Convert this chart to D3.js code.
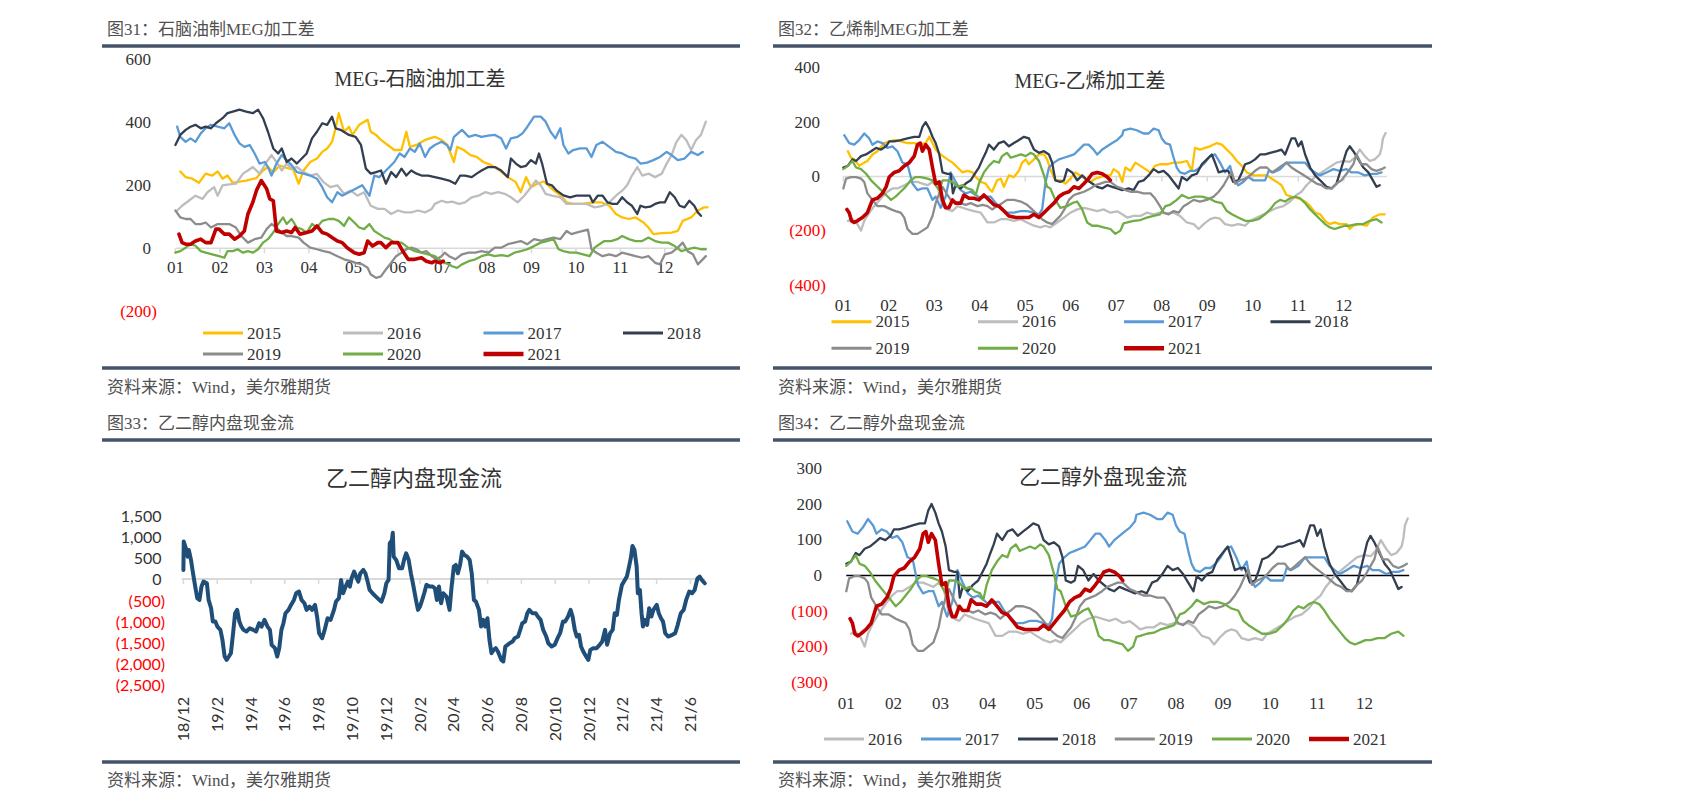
<!DOCTYPE html>
<html><head><meta charset="utf-8">
<script src="https://cdn.jsdelivr.net/npm/d3@7"></script>
<style>body{margin:0;background:#fff}svg{display:block}</style>
</head><body>
<svg id="c" width="1684" height="809"></svg>
<script>
// ---------- DATA ----------
const monthLabels = ["01","02","03","04","05","06","07","08","09","10","11","12"];
const ticksNaphtha = [-200, 0, 200, 400, 600];
const ticksEthylene = [-400, -200, 0, 200, 400];
const ticksOverseas = [-300, -200, -100, 0, 100, 200, 300];
const ticksDomestic = [-2500, -2000, -1500, -1000, -500, 0, 500, 1000, 1500];
const domesticDateLabels = ["18/12","19/2","19/4","19/6","19/8","19/10","19/12","20/2","20/4","20/6","20/8","20/10","20/12","21/2","21/4","21/6"];
const yearsP1 = ["2015","2016","2017","2018","2019","2020","2021"];
const yearsP4 = ["2016","2017","2018","2019","2020","2021"];

// 图31: [month offset, value]
const naphtha2015 = [[0.11,244],[0.23,226],[0.38,221],[0.53,208],[0.68,237],[0.83,231],[0.95,244],[1.06,221],[1.17,231],[1.29,208],[1.44,212],[1.59,215],[1.82,223],[1.97,247],[2.08,258],[2.20,242],[2.35,263],[2.50,255],[2.65,250],[2.77,205],[2.88,247],[3.03,274],[3.18,285],[3.30,306],[3.41,317],[3.52,338],[3.60,381],[3.67,429],[3.79,370],[3.90,386],[3.98,360],[4.13,392],[4.32,408],[4.39,370],[4.51,360],[4.62,344],[4.77,328],[4.92,312],[5.08,312],[5.19,370],[5.27,322],[5.42,328],[5.61,344],[5.83,354],[5.98,344],[6.11,328],[6.26,274],[6.33,322],[6.48,312],[6.63,296],[6.77,290],[6.92,274],[7.10,264],[7.29,247],[7.47,226],[7.65,210],[7.76,178],[7.88,226],[7.99,194],[8.13,205],[8.28,212],[8.46,189],[8.65,168],[8.79,146],[8.94,141],[9.16,141],[9.38,146],[9.57,146],[9.75,135],[9.90,109],[10.04,98],[10.19,93],[10.34,98],[10.52,82],[10.63,66],[10.74,45],[10.93,48],[11.15,50],[11.29,55],[11.40,87],[11.59,98],[11.74,120],[11.88,130],[11.96,130]];
const naphtha2016 = [[0.04,120],[0.15,135],[0.30,151],[0.45,167],[0.61,157],[0.72,178],[0.87,194],[0.95,167],[1.06,200],[1.17,202],[1.36,205],[1.52,237],[1.63,247],[1.74,258],[1.89,237],[2.05,274],[2.16,296],[2.27,274],[2.39,247],[2.50,269],[2.61,253],[2.73,258],[2.88,242],[3.03,231],[3.18,236],[3.33,210],[3.48,194],[3.64,200],[3.79,173],[3.94,183],[4.09,167],[4.24,178],[4.39,135],[4.55,125],[4.70,125],[4.85,109],[5.00,120],[5.15,114],[5.30,114],[5.45,120],[5.61,114],[5.76,125],[5.83,141],[5.98,151],[6.10,146],[6.22,148],[6.37,141],[6.51,146],[6.66,162],[6.81,167],[6.96,178],[7.10,173],[7.25,178],[7.40,173],[7.54,162],[7.69,146],[7.84,167],[7.99,194],[8.10,215],[8.21,200],[8.32,173],[8.46,167],[8.65,162],[8.79,141],[9.01,141],[9.24,141],[9.42,130],[9.60,135],[9.75,146],[9.90,167],[10.04,183],[10.15,200],[10.26,231],[10.38,258],[10.49,231],[10.63,237],[10.78,226],[10.93,237],[11.04,269],[11.15,296],[11.26,338],[11.37,360],[11.48,344],[11.59,312],[11.70,344],[11.81,360],[11.92,402]];
const naphtha2017 = [[0.04,386],[0.11,354],[0.23,338],[0.34,349],[0.45,338],[0.57,365],[0.68,381],[0.80,392],[0.95,386],[1.10,381],[1.21,397],[1.33,360],[1.44,333],[1.55,322],[1.67,328],[1.78,301],[1.89,269],[2.01,274],[2.08,258],[2.16,231],[2.27,269],[2.39,296],[2.50,280],[2.61,264],[2.73,242],[2.88,237],[3.03,231],[3.18,221],[3.30,194],[3.41,162],[3.52,146],[3.64,178],[3.75,167],[3.90,178],[4.05,189],[4.20,200],[4.36,167],[4.47,231],[4.58,226],[4.70,242],[4.81,258],[4.92,274],[5.04,301],[5.15,290],[5.27,317],[5.38,306],[5.49,333],[5.61,290],[5.72,317],[5.83,328],[5.98,338],[6.10,328],[6.18,312],[6.26,354],[6.44,376],[6.59,354],[6.74,360],[6.88,354],[7.03,358],[7.18,360],[7.32,349],[7.43,317],[7.54,349],[7.69,354],[7.80,365],[7.91,386],[8.06,418],[8.21,418],[8.32,402],[8.43,370],[8.54,349],[8.65,381],[8.72,328],[8.83,301],[8.94,312],[9.09,317],[9.24,317],[9.35,290],[9.46,328],[9.60,338],[9.75,322],[9.90,306],[10.04,301],[10.19,290],[10.34,285],[10.45,269],[10.60,272],[10.74,280],[10.89,290],[11.04,306],[11.15,296],[11.29,280],[11.44,285],[11.59,306],[11.74,296],[11.85,306]];
const naphtha2018 = [[0,328],[0.11,360],[0.23,376],[0.34,386],[0.45,392],[0.57,381],[0.68,386],[0.80,381],[0.91,397],[1.06,413],[1.17,429],[1.29,434],[1.44,440],[1.59,434],[1.74,429],[1.86,440],[1.97,413],[2.08,370],[2.20,317],[2.31,301],[2.39,317],[2.50,274],[2.61,285],[2.73,269],[2.84,285],[2.95,301],[3.07,349],[3.18,370],[3.30,397],[3.41,392],[3.52,418],[3.60,381],[3.71,376],[3.90,360],[4.05,354],[4.17,328],[4.28,253],[4.39,237],[4.51,242],[4.62,247],[4.73,205],[4.85,242],[4.96,226],[5.08,253],[5.19,231],[5.30,247],[5.42,237],[5.53,231],[5.68,231],[5.83,226],[5.98,221],[6.15,215],[6.29,205],[6.40,231],[6.51,231],[6.66,226],[6.77,237],[6.88,247],[7.03,258],[7.18,258],[7.32,247],[7.47,226],[7.54,285],[7.65,269],[7.76,258],[7.88,262],[7.99,280],[8.10,269],[8.17,301],[8.24,269],[8.35,205],[8.46,200],[8.57,183],[8.72,168],[8.87,162],[9.01,167],[9.16,167],[9.31,167],[9.38,146],[9.49,167],[9.60,167],[9.71,146],[9.82,141],[9.93,141],[10.04,162],[10.15,146],[10.26,135],[10.38,109],[10.45,135],[10.56,130],[10.67,132],[10.78,141],[10.89,146],[11.00,146],[11.11,178],[11.22,162],[11.33,135],[11.44,130],[11.55,151],[11.66,135],[11.74,114],[11.81,103]];
const naphtha2019 = [[0,120],[0.11,98],[0.23,93],[0.34,93],[0.45,77],[0.57,77],[0.68,82],[0.80,66],[0.95,77],[1.06,77],[1.21,77],[1.36,66],[1.48,39],[1.63,18],[1.78,29],[1.93,34],[2.05,61],[2.16,77],[2.27,66],[2.39,50],[2.50,39],[2.61,39],[2.77,34],[2.88,18],[3.03,2],[3.18,-3],[3.33,-9],[3.48,-14],[3.64,-25],[3.79,-35],[3.94,-41],[4.05,-46],[4.20,-51],[4.32,-62],[4.39,-83],[4.51,-94],[4.62,-89],[4.73,-67],[4.85,-46],[4.96,-25],[5.08,-14],[5.19,-3],[5.30,2],[5.42,-3],[5.53,-14],[5.64,-9],[5.76,-25],[5.87,-35],[5.98,-25],[6.05,-14],[6.15,-25],[6.29,-35],[6.44,-19],[6.59,-14],[6.74,-14],[6.88,-9],[7.03,-14],[7.18,2],[7.32,2],[7.47,13],[7.62,18],[7.76,23],[7.91,13],[8.06,29],[8.21,24],[8.35,29],[8.50,34],[8.65,29],[8.79,55],[8.90,45],[9.01,50],[9.16,55],[9.27,59],[9.35,-3],[9.46,-14],[9.60,-25],[9.75,-19],[9.90,-25],[10.04,-14],[10.19,-19],[10.34,-25],[10.49,-30],[10.63,-25],[10.78,-46],[10.89,-51],[11.00,-19],[11.15,-14],[11.29,2],[11.40,18],[11.51,-9],[11.63,-19],[11.74,-51],[11.85,-35],[11.92,-25]];
const naphtha2020 = [[0,-14],[0.11,-9],[0.23,2],[0.34,13],[0.45,8],[0.57,-9],[0.68,-14],[0.83,-19],[0.98,-25],[1.10,-30],[1.17,-9],[1.29,-9],[1.40,-3],[1.52,-14],[1.63,-9],[1.74,-14],[1.86,-3],[1.97,18],[2.08,29],[2.20,50],[2.31,77],[2.42,98],[2.50,77],[2.61,93],[2.73,66],[2.84,61],[2.95,50],[3.07,77],[3.18,66],[3.30,87],[3.45,93],[3.56,93],[3.67,87],[3.79,71],[3.90,98],[4.02,82],[4.13,66],[4.24,61],[4.36,77],[4.47,55],[4.58,45],[4.70,34],[4.81,29],[4.92,18],[5.08,18],[5.23,2],[5.38,-9],[5.53,-14],[5.68,-19],[5.83,-25],[5.98,-41],[6.14,-51],[6.22,-57],[6.33,-62],[6.44,-51],[6.59,-41],[6.74,-35],[6.88,-25],[7.03,-19],[7.18,-25],[7.32,-22],[7.47,-25],[7.62,-14],[7.76,-9],[7.91,-3],[8.06,7],[8.21,18],[8.35,23],[8.50,29],[8.61,-3],[8.72,-9],[8.87,-14],[9.01,-14],[9.16,-19],[9.31,-25],[9.42,2],[9.53,13],[9.64,23],[9.79,23],[9.93,29],[10.04,39],[10.19,29],[10.34,23],[10.49,23],[10.63,34],[10.78,23],[10.93,18],[11.07,18],[11.22,7],[11.37,-9],[11.51,-3],[11.66,2],[11.81,-3],[11.92,-3]];
const naphtha2021 = [[0.08,45],[0.15,18],[0.23,13],[0.34,13],[0.45,23],[0.57,29],[0.68,18],[0.80,18],[0.91,61],[0.98,61],[1.10,45],[1.21,45],[1.33,29],[1.44,39],[1.55,55],[1.63,109],[1.74,146],[1.82,183],[1.93,215],[2.05,189],[2.12,157],[2.20,151],[2.27,55],[2.39,50],[2.50,55],[2.61,50],[2.69,66],[2.80,45],[2.95,50],[3.07,55],[3.18,71],[3.30,50],[3.41,45],[3.52,34],[3.64,23],[3.75,18],[3.86,2],[4.02,-14],[4.13,-19],[4.24,-14],[4.32,23],[4.43,7],[4.55,18],[4.62,18],[4.73,2],[4.85,18],[5.00,18],[5.11,-9],[5.23,-35],[5.38,-35],[5.53,-30],[5.64,-41],[5.76,-46],[5.83,-41],[5.95,-46],[6.02,-41]];

// 图32 / 图34 (same underlying series)
const ethylene2015 = [[0.10,93],[0.17,69],[0.24,63],[0.35,39],[0.46,51],[0.53,57],[0.64,81],[0.75,93],[0.90,123],[1.01,129],[1.12,134],[1.26,129],[1.41,123],[1.56,123],[1.70,117],[1.81,123],[1.89,146],[1.96,123],[2.03,99],[2.14,81],[2.29,63],[2.40,51],[2.51,33],[2.62,15],[2.73,21],[2.84,15],[2.91,-2],[3.02,-20],[3.13,-26],[3.20,-44],[3.27,-56],[3.38,-14],[3.46,-8],[3.53,-38],[3.64,4],[3.75,-2],[3.86,21],[3.93,51],[4.01,63],[4.08,45],[4.19,63],[4.30,81],[4.41,81],[4.48,63],[4.55,27],[4.66,-14],[4.77,-14],[4.88,-26],[4.99,-8],[5.10,15],[5.21,4],[5.32,-8],[5.43,-20],[5.54,-8],[5.65,-2],[5.76,4],[5.87,4],[5.94,27],[6.05,15],[6.13,-20],[6.20,33],[6.31,21],[6.42,51],[6.53,39],[6.64,27],[6.75,15],[6.85,39],[6.96,45],[7.11,45],[7.26,51],[7.40,51],[7.55,57],[7.66,21],[7.73,105],[7.84,99],[7.95,105],[8.06,111],[8.21,123],[8.32,117],[8.43,99],[8.54,81],[8.65,57],[8.76,39],[8.87,15],[9.01,4],[9.16,4],[9.31,4],[9.42,-8],[9.53,-20],[9.63,-32],[9.74,-68],[9.85,-74],[10.00,-80],[10.15,-92],[10.26,-109],[10.37,-133],[10.48,-139],[10.59,-163],[10.69,-175],[10.80,-169],[10.91,-175],[11.06,-175],[11.13,-193],[11.21,-181],[11.35,-175],[11.50,-181],[11.64,-151],[11.79,-139],[11.90,-139]];
const ethylene2016 = [[0.10,-163],[0.20,-157],[0.31,-175],[0.39,-199],[0.46,-163],[0.57,-133],[0.68,-109],[0.83,-80],[0.97,-56],[1.08,-44],[1.19,-44],[1.34,-32],[1.48,-20],[1.63,-20],[1.74,-26],[1.85,-32],[1.96,-20],[2.07,-38],[2.18,-109],[2.29,-121],[2.40,-127],[2.51,-109],[2.62,-115],[2.73,-121],[2.87,-127],[3.02,-133],[3.17,-169],[3.31,-169],[3.46,-157],[3.60,-157],[3.75,-163],[3.90,-157],[4.04,-169],[4.19,-181],[4.33,-187],[4.44,-181],[4.55,-187],[4.70,-169],[4.85,-151],[4.99,-133],[5.14,-121],[5.29,-115],[5.43,-121],[5.58,-127],[5.72,-121],[5.87,-133],[6.02,-128],[6.13,-139],[6.24,-151],[6.38,-145],[6.53,-145],[6.67,-133],[6.82,-139],[6.96,-133],[7.11,-136],[7.26,-133],[7.40,-145],[7.55,-169],[7.70,-175],[7.81,-193],[7.92,-175],[8.06,-157],[8.17,-151],[8.28,-155],[8.39,-175],[8.54,-181],[8.68,-175],[8.83,-181],[8.94,-163],[9.09,-151],[9.24,-139],[9.38,-127],[9.53,-115],[9.67,-109],[9.82,-92],[9.96,-68],[10.07,-56],[10.18,-32],[10.29,-14],[10.40,4],[10.51,15],[10.62,27],[10.73,39],[10.84,51],[10.99,57],[11.13,54],[11.24,69],[11.35,99],[11.46,75],[11.57,57],[11.68,63],[11.79,81],[11.83,105],[11.86,140],[11.92,160]];
const ethylene2017 = [[0.02,152],[0.13,123],[0.24,117],[0.35,134],[0.46,158],[0.57,140],[0.64,117],[0.75,129],[0.86,123],[0.97,105],[1.08,111],[1.19,93],[1.30,51],[1.41,45],[1.52,-26],[1.63,-50],[1.74,-44],[1.85,-44],[1.96,-86],[2.03,-74],[2.14,-115],[2.25,-74],[2.36,15],[2.47,-20],[2.58,-50],[2.69,-62],[2.80,-56],[2.91,-68],[3.02,-80],[3.13,-74],[3.24,-74],[3.35,-98],[3.46,-115],[3.60,-133],[3.75,-133],[3.90,-127],[4.04,-127],[4.19,-133],[4.30,-139],[4.37,-121],[4.44,-26],[4.52,33],[4.63,51],[4.74,63],[4.85,69],[4.96,75],[5.07,81],[5.18,99],[5.29,117],[5.39,117],[5.50,99],[5.58,81],[5.69,99],[5.80,111],[5.91,123],[6.02,134],[6.13,152],[6.16,170],[6.31,176],[6.45,170],[6.60,158],[6.71,158],[6.82,176],[6.93,170],[7.00,140],[7.08,123],[7.18,117],[7.26,69],[7.33,33],[7.40,15],[7.51,10],[7.62,21],[7.73,21],[7.84,33],[7.95,51],[8.06,75],[8.17,81],[8.28,51],[8.39,15],[8.50,39],[8.57,-8],[8.68,-32],[8.79,-20],[8.90,-2],[9.01,-14],[9.16,-14],[9.27,-14],[9.35,21],[9.45,15],[9.60,27],[9.74,51],[9.89,51],[10.04,51],[10.15,51],[10.26,27],[10.37,15],[10.48,4],[10.62,15],[10.77,27],[10.91,21],[11.06,27],[11.17,15],[11.32,15],[11.46,4],[11.61,10],[11.72,10],[11.83,15]];
const ethylene2018 = [[0,33],[0.10,39],[0.20,63],[0.28,57],[0.39,75],[0.50,81],[0.61,93],[0.72,105],[0.83,99],[0.94,111],[1.01,129],[1.12,129],[1.26,134],[1.41,140],[1.56,146],[1.67,146],[1.74,182],[1.81,200],[1.89,176],[1.96,146],[2.03,123],[2.11,81],[2.18,15],[2.29,10],[2.36,10],[2.41,-62],[2.47,-32],[2.58,-44],[2.69,-26],[2.80,-14],[2.91,15],[2.98,33],[3.06,63],[3.13,87],[3.20,117],[3.31,99],[3.42,123],[3.53,129],[3.64,111],[3.75,123],[3.86,134],[3.97,146],[4.08,140],[4.19,99],[4.30,87],[4.41,93],[4.52,81],[4.59,51],[4.66,-14],[4.77,-20],[4.85,-14],[4.92,27],[5.03,15],[5.14,-14],[5.25,4],[5.36,-14],[5.47,-26],[5.58,-38],[5.69,-44],[5.80,-32],[5.91,-38],[6.02,-44],[6.13,-50],[6.27,-44],[6.38,-50],[6.49,-20],[6.60,-14],[6.71,4],[6.82,27],[6.93,15],[7.04,21],[7.15,4],[7.26,-20],[7.37,-44],[7.44,-2],[7.55,-14],[7.66,4],[7.77,10],[7.88,45],[7.99,63],[8.10,81],[8.17,51],[8.25,15],[8.36,21],[8.46,21],[8.57,-20],[8.68,-14],[8.76,15],[8.83,45],[8.94,51],[9.05,63],[9.16,81],[9.27,81],[9.38,87],[9.53,93],[9.63,99],[9.71,81],[9.78,111],[9.85,140],[9.93,140],[10.00,111],[10.07,129],[10.15,81],[10.26,33],[10.37,4],[10.48,-14],[10.62,-38],[10.73,-44],[10.84,-26],[10.95,33],[11.06,93],[11.13,111],[11.21,93],[11.32,63],[11.43,33],[11.54,15],[11.64,-14],[11.72,-38],[11.79,-32]];
const ethylene2019 = [[0,-44],[0.06,-8],[0.17,-2],[0.28,-2],[0.39,-8],[0.46,-20],[0.53,-62],[0.64,-86],[0.75,-109],[0.90,-109],[1.05,-121],[1.15,-127],[1.26,-133],[1.34,-151],[1.41,-193],[1.52,-211],[1.63,-211],[1.74,-199],[1.85,-187],[1.96,-145],[2.03,-98],[2.11,-62],[2.18,-38],[2.29,-68],[2.36,-86],[2.47,-98],[2.58,-98],[2.69,-104],[2.80,-98],[2.95,-109],[3.06,-104],[3.17,-109],[3.27,-121],[3.38,-109],[3.49,-98],[3.60,-86],[3.75,-86],[3.90,-92],[4.04,-104],[4.15,-121],[4.26,-139],[4.37,-157],[4.48,-169],[4.59,-175],[4.66,-163],[4.77,-145],[4.88,-115],[4.96,-86],[5.07,-68],[5.18,-62],[5.29,-56],[5.43,-44],[5.54,-32],[5.65,-26],[5.76,-20],[5.87,-20],[6.02,-38],[6.13,-44],[6.20,-50],[6.31,-56],[6.45,-56],[6.60,-62],[6.75,-62],[6.85,-80],[6.96,-109],[7.04,-133],[7.15,-139],[7.26,-127],[7.37,-133],[7.48,-109],[7.59,-98],[7.70,-86],[7.84,-92],[7.99,-86],[8.14,-74],[8.25,-56],[8.36,-32],[8.46,-2],[8.54,15],[8.61,-26],[8.72,-14],[8.83,-8],[8.94,4],[9.05,21],[9.16,33],[9.31,33],[9.42,15],[9.53,27],[9.63,39],[9.74,51],[9.85,33],[9.96,21],[10.07,10],[10.18,-2],[10.29,-14],[10.40,-26],[10.51,-32],[10.62,-44],[10.73,-44],[10.84,-26],[10.95,-14],[11.06,10],[11.21,45],[11.28,81],[11.39,45],[11.50,45],[11.61,27],[11.72,21],[11.83,27],[11.90,33]];
const ethylene2020 = [[0,27],[0.10,39],[0.20,57],[0.28,33],[0.39,27],[0.50,10],[0.61,-14],[0.72,-32],[0.83,-50],[0.94,-68],[1.05,-86],[1.15,-74],[1.26,-56],[1.37,-38],[1.48,-14],[1.59,-2],[1.70,-2],[1.85,-8],[1.96,-14],[2.03,-32],[2.11,-50],[2.18,-14],[2.29,-14],[2.40,-20],[2.51,-38],[2.62,-32],[2.73,-44],[2.84,-50],[2.91,-68],[2.98,-26],[3.09,15],[3.20,39],[3.31,57],[3.42,51],[3.49,75],[3.60,87],[3.68,69],[3.79,75],[3.90,81],[4.01,75],[4.12,87],[4.19,81],[4.30,57],[4.41,4],[4.48,-38],[4.55,-44],[4.66,-86],[4.77,-115],[4.92,-109],[5.03,-98],[5.14,-92],[5.25,-121],[5.36,-169],[5.47,-181],[5.58,-181],[5.72,-187],[5.87,-193],[5.98,-211],[6.09,-199],[6.16,-172],[6.24,-169],[6.38,-163],[6.53,-160],[6.67,-151],[6.82,-145],[6.96,-139],[7.08,-109],[7.18,-104],[7.33,-86],[7.44,-68],[7.59,-80],[7.73,-74],[7.88,-74],[8.03,-80],[8.17,-92],[8.32,-98],[8.43,-127],[8.54,-139],[8.68,-151],[8.83,-163],[8.98,-163],[9.12,-157],[9.27,-139],[9.38,-121],[9.49,-98],[9.60,-86],[9.71,-92],[9.82,-80],[9.93,-74],[10.04,-80],[10.15,-98],[10.26,-121],[10.37,-139],[10.48,-157],[10.59,-175],[10.69,-187],[10.80,-193],[10.91,-187],[11.02,-181],[11.13,-181],[11.28,-175],[11.43,-175],[11.57,-163],[11.72,-157],[11.83,-169]];
const ethylene2021 = [[0.08,-121],[0.13,-133],[0.18,-163],[0.24,-169],[0.31,-163],[0.42,-151],[0.53,-133],[0.64,-86],[0.75,-80],[0.86,-62],[0.94,-38],[1.01,-2],[1.12,15],[1.23,21],[1.34,39],[1.45,51],[1.56,75],[1.63,117],[1.69,123],[1.74,93],[1.81,117],[1.89,99],[1.96,33],[2.03,-26],[2.11,-20],[2.18,-86],[2.25,-115],[2.32,-115],[2.40,-86],[2.47,-98],[2.58,-98],[2.65,-68],[2.76,-80],[2.87,-80],[2.98,-86],[3.09,-68],[3.20,-86],[3.31,-104],[3.42,-109],[3.53,-127],[3.64,-145],[3.79,-151],[3.93,-151],[4.08,-151],[4.19,-139],[4.30,-151],[4.41,-133],[4.52,-115],[4.63,-98],[4.74,-74],[4.85,-62],[4.96,-56],[5.07,-38],[5.18,-44],[5.29,-26],[5.39,-8],[5.47,10],[5.58,15],[5.69,10],[5.80,-2],[5.87,-14]];

// 图33: [months since 2018-12, value]
const domesticCash = [[0,213],[0.02,885],[0.15,727],[0.25,529],[0.32,687],[0.45,450],[0.57,134],[0.70,-182],[0.82,-458],[0.95,-498],[1.07,-182],[1.19,-63],[1.39,-103],[1.49,-498],[1.64,-695],[1.74,-1011],[1.89,-1011],[2.01,-1130],[2.19,-1209],[2.31,-1446],[2.44,-1841],[2.56,-1920],[2.69,-1841],[2.81,-1762],[2.94,-1288],[3.06,-814],[3.18,-735],[3.31,-1011],[3.43,-1130],[3.56,-1209],[3.73,-1248],[3.93,-1169],[4.13,-1209],[4.30,-1248],[4.48,-1051],[4.63,-1130],[4.80,-972],[4.98,-1130],[5.12,-1209],[5.22,-1564],[5.42,-1643],[5.55,-1841],[5.67,-1643],[5.80,-1209],[5.92,-1051],[6.04,-814],[6.22,-735],[6.37,-616],[6.54,-498],[6.67,-340],[6.84,-300],[6.99,-498],[7.16,-577],[7.29,-735],[7.46,-656],[7.61,-735],[7.79,-616],[7.91,-893],[8.03,-1288],[8.21,-1406],[8.36,-1209],[8.53,-932],[8.71,-972],[8.91,-735],[9.03,-537],[9.20,-458],[9.33,-24],[9.45,-340],[9.60,-182],[9.73,-63],[9.85,-182],[9.95,16],[10.10,174],[10.22,55],[10.35,-63],[10.47,134],[10.65,213],[10.77,134],[10.90,-63],[11.02,-261],[11.19,-340],[11.39,-419],[11.59,-498],[11.72,-537],[11.89,-340],[12.01,-103],[12.14,-24],[12.21,845],[12.34,924],[12.39,1098],[12.44,529],[12.59,450],[12.76,253],[12.94,253],[13.08,490],[13.18,608],[13.33,450],[13.46,134],[13.58,-103],[13.76,-498],[13.88,-735],[14.00,-656],[14.13,-498],[14.25,-340],[14.38,-142],[14.58,-182],[14.75,-182],[14.88,-221],[15.00,-498],[15.12,-182],[15.25,-577],[15.37,-340],[15.57,-419],[15.75,-735],[15.87,-182],[16.00,292],[16.12,332],[16.24,134],[16.37,332],[16.49,648],[16.62,569],[16.79,529],[16.94,450],[17.06,134],[17.19,-498],[17.31,-537],[17.49,-735],[17.61,-1130],[17.74,-972],[17.86,-1130],[17.99,-932],[18.11,-1446],[18.23,-1762],[18.36,-1683],[18.48,-1643],[18.61,-1722],[18.81,-1920],[18.93,-1959],[19.05,-1604],[19.18,-1564],[19.30,-1525],[19.48,-1485],[19.60,-1406],[19.80,-1367],[19.93,-1209],[20.05,-1051],[20.22,-1011],[20.35,-814],[20.47,-735],[20.65,-814],[20.85,-814],[20.97,-893],[21.14,-972],[21.29,-1209],[21.47,-1367],[21.59,-1525],[21.79,-1604],[21.97,-1564],[22.14,-1406],[22.29,-1288],[22.46,-1011],[22.59,-1011],[22.76,-893],[22.91,-735],[23.03,-893],[23.16,-1209],[23.28,-1367],[23.41,-1327],[23.53,-1604],[23.66,-1722],[23.83,-1841],[23.96,-1920],[24.08,-1683],[24.25,-1643],[24.45,-1643],[24.63,-1564],[24.78,-1485],[24.95,-1209],[25.07,-1564],[25.25,-1288],[25.40,-1209],[25.52,-814],[25.65,-853],[25.77,-498],[25.95,-142],[26.07,-63],[26.24,55],[26.37,292],[26.49,529],[26.57,782],[26.69,687],[26.82,292],[26.89,-340],[27.01,-261],[27.11,-814],[27.19,-1130],[27.31,-972],[27.44,-1090],[27.56,-695],[27.69,-893],[27.81,-735],[28.01,-616],[28.13,-814],[28.26,-932],[28.38,-1011],[28.51,-1288],[28.68,-1367],[28.93,-1327],[29.10,-1288],[29.25,-1090],[29.43,-814],[29.60,-735],[29.75,-498],[29.93,-300],[30.10,-340],[30.25,-261],[30.42,16],[30.55,55],[30.67,-24],[30.85,-103]];

// ---------- STYLE ----------
const COLORS = {"2015":"#FFC000","2016":"#BDBDBD","2017":"#5B9BD5","2018":"#333F50","2019":"#8C8C8C","2020":"#70AD47","2021":"#C00000"};
const SERIF = '"Liberation Serif","Noto Sans CJK SC",serif';
const CJK = '"Noto Sans CJK SC",sans-serif';
const SANS = 'Lato,"Noto Sans",sans-serif';
const TXT = "#333";
const svg = d3.select("#c");
svg.append("rect").attr("width",1684).attr("height",809).attr("fill","#fff");

function frame(x0, x1, yHead, yTop, yBot, ySrc, head){
  const g = svg.append("g");
  g.append("text").attr("x", x0+5).attr("y", yHead).attr("dominant-baseline","central")
    .attr("font-family", SERIF).attr("font-size",17).attr("fill","#505050").text(head);
  [yTop, yBot].forEach(y => g.append("line").attr("x1",x0).attr("x2",x1).attr("y1",y).attr("y2",y)
    .attr("stroke","#44546A").attr("stroke-width",3.5));
  g.append("text").attr("x", x0+5).attr("y", ySrc).attr("dominant-baseline","central")
    .attr("font-family", SERIF).attr("font-size",17).attr("fill","#505050").text("资料来源：Wind，美尔雅期货");
}
function acct(v){ const f = d3.format(","); return v < 0 ? "(" + f(-v) + ")" : f(v); }
function yLabels(g, y, ticks, xPos, xNeg, font, size){
  g.selectAll(null).data(ticks).join("text")
    .attr("x", d => d < 0 ? xNeg : xPos).attr("y", d => y(d))
    .attr("text-anchor","end").attr("dominant-baseline","central")
    .attr("font-family", font).attr("font-size", size)
    .attr("fill", d => d < 0 ? "#FF0000" : TXT).text(acct);
}
function legend(g, items, rows){
  items.forEach((it, i) => {
    const r = rows[i];
    g.append("line").attr("x1", r[0]).attr("x2", r[0]+40).attr("y1", r[1]).attr("y2", r[1])
      .attr("stroke", COLORS[it]).attr("stroke-width", it === "2021" ? 4.5 : 3);
    g.append("text").attr("x", r[0]+44).attr("y", r[1]).attr("dominant-baseline","central")
      .attr("font-family", SERIF).attr("font-size",17).attr("fill",TXT).text(it);
  });
}
function seasonal(cfg){
  const g = svg.append("g");
  const x = d3.scaleLinear().domain([0,12]).range(cfg.xr);
  const y = d3.scaleLinear().domain(cfg.yd).range(cfg.yr);
  g.append("line").attr("x1", x(0)).attr("x2", x(11.95)).attr("y1", y(0)).attr("y2", y(0))
    .attr("stroke", cfg.zeroColor).attr("stroke-width", cfg.zeroWidth);
  if (cfg.zeroTicks) {
    g.selectAll(null).data(d3.range(0,12)).join("line")
      .attr("x1", d => x(d)).attr("x2", d => x(d)).attr("y1", y(0)).attr("y2", y(0)+5)
      .attr("stroke", cfg.zeroColor).attr("stroke-width", 1.5);
  }
  yLabels(g, y, cfg.ticks, cfg.xPos, cfg.xNeg, SERIF, 17);
  g.selectAll(null).data(monthLabels).join("text")
    .attr("x", (d,i) => x(i)).attr("y", cfg.xLabelY).attr("text-anchor","middle")
    .attr("dominant-baseline","central").attr("font-family", SERIF).attr("font-size",17)
    .attr("fill",TXT).text(d => d);
  g.append("text").attr("x", cfg.title[1]).attr("y", cfg.title[2]).attr("text-anchor","middle")
    .attr("dominant-baseline","central").attr("font-family", SERIF).attr("font-size", cfg.title[3])
    .attr("fill",TXT).text(cfg.title[0]);
  const line = d3.line().x(d => x(d[0])).y(d => y(d[1]));
  cfg.series.forEach(s => {
    g.append("path").attr("d", line(s.data)).attr("fill","none")
      .attr("stroke", COLORS[s.year]).attr("stroke-width", s.year === "2021" ? 3.6 : 2.3)
      .attr("stroke-linejoin","round").attr("stroke-linecap","round");
  });
  legend(g, cfg.series.map(s => s.year), cfg.legend);
}

// ---------- PANELS ----------
frame(102, 740, 29, 46, 368, 387, "图31：石脑油制MEG加工差");
frame(773, 1432, 29, 46, 368, 387, "图32：乙烯制MEG加工差");
frame(102, 740, 423, 440, 762, 780, "图33：乙二醇内盘现金流");
frame(773, 1432, 423, 440, 762, 780, "图34：乙二醇外盘现金流");

const naphthaData = [naphtha2015, naphtha2016, naphtha2017, naphtha2018, naphtha2019, naphtha2020, naphtha2021];
seasonal({
  xr:[175.4, 709.4], yd:[-200,600], yr:[311.3, 59.3], ticks: ticksNaphtha, xPos:151, xNeg:157,
  zeroColor:"#D9D9D9", zeroWidth:1.5, zeroTicks:true, xLabelY:267,
  title:["MEG-石脑油加工差", 420, 79, 20],
  series: yearsP1.map((yr,i) => ({year:yr, data:naphthaData[i]})),
  legend:[[203,333],[343,333],[483.5,333],[623,333],[203,354],[343,354],[483.5,354]]
});
const ethyleneData = [ethylene2015, ethylene2016, ethylene2017, ethylene2018, ethylene2019, ethylene2020, ethylene2021];
seasonal({
  xr:[843.3, 1389.3], yd:[-400,400], yr:[285.3, 67.7], ticks: ticksEthylene, xPos:820, xNeg:826,
  zeroColor:"#D9D9D9", zeroWidth:1.5, zeroTicks:true, xLabelY:305,
  title:["MEG-乙烯加工差", 1090, 81, 20],
  series: yearsP1.map((yr,i) => ({year:yr, data:ethyleneData[i]})),
  legend:[[831.5,321.7],[978,321.7],[1124,321.7],[1270.5,321.7],[831.5,348.3],[978,348.3],[1124,348.3]]
});
seasonal({
  xr:[846.3, 1411.5], yd:[-300,300], yr:[682.7, 468.3], ticks: ticksOverseas, xPos:822, xNeg:828,
  zeroColor:"#000", zeroWidth:1.5, zeroTicks:false, xLabelY:703,
  title:["乙二醇外盘现金流", 1103, 477, 21],
  series: yearsP4.map((yr,i) => ({year:yr, data:ethyleneData[i+1]})),
  legend:[[824,739],[921,739],[1018,739],[1114.8,739],[1212,739],[1309,739]]
});

// 图33 domestic cash flow
(function(){
  const g = svg.append("g");
  const x = d3.scaleLinear().domain([0,30]).range([183.4, 690.4]);
  const y = d3.scaleLinear().domain([-2500,1500]).range([684.3, 515.7]);
  g.append("line").attr("x1", x(-0.1)).attr("x2", x(30.85)).attr("y1", y(0)).attr("y2", y(0))
    .attr("stroke","#D9D9D9").attr("stroke-width",2);
  g.selectAll(null).data(domesticDateLabels).join("line")
    .attr("x1",(d,i)=>x(i*2)).attr("x2",(d,i)=>x(i*2)).attr("y1",y(0)).attr("y2",y(0)+5)
    .attr("stroke","#D9D9D9").attr("stroke-width",1.5);
  yLabels(g, y, ticksDomestic, 161.5, 165, SANS, 16);
  g.selectAll(null).data(domesticDateLabels).join("text")
    .attr("transform",(d,i)=>`translate(${x(i*2)},697) rotate(-90)`)
    .attr("text-anchor","end").attr("dy","0.35em")
    .attr("font-family", SANS).attr("font-size",16).attr("fill",TXT).text(d=>d);
  g.append("text").attr("x",414).attr("y",476).attr("text-anchor","middle").attr("dominant-baseline","central")
    .attr("font-family", CJK).attr("font-size",22).attr("fill",TXT).text("乙二醇内盘现金流");
  const line = d3.line().x(d=>x(d[0])).y(d=>y(d[1]));
  g.append("path").attr("d", line(domesticCash)).attr("fill","none").attr("stroke","#1F4E79")
    .attr("stroke-width",4).attr("stroke-linejoin","round").attr("stroke-linecap","round");
})();
</script>
</body></html>
